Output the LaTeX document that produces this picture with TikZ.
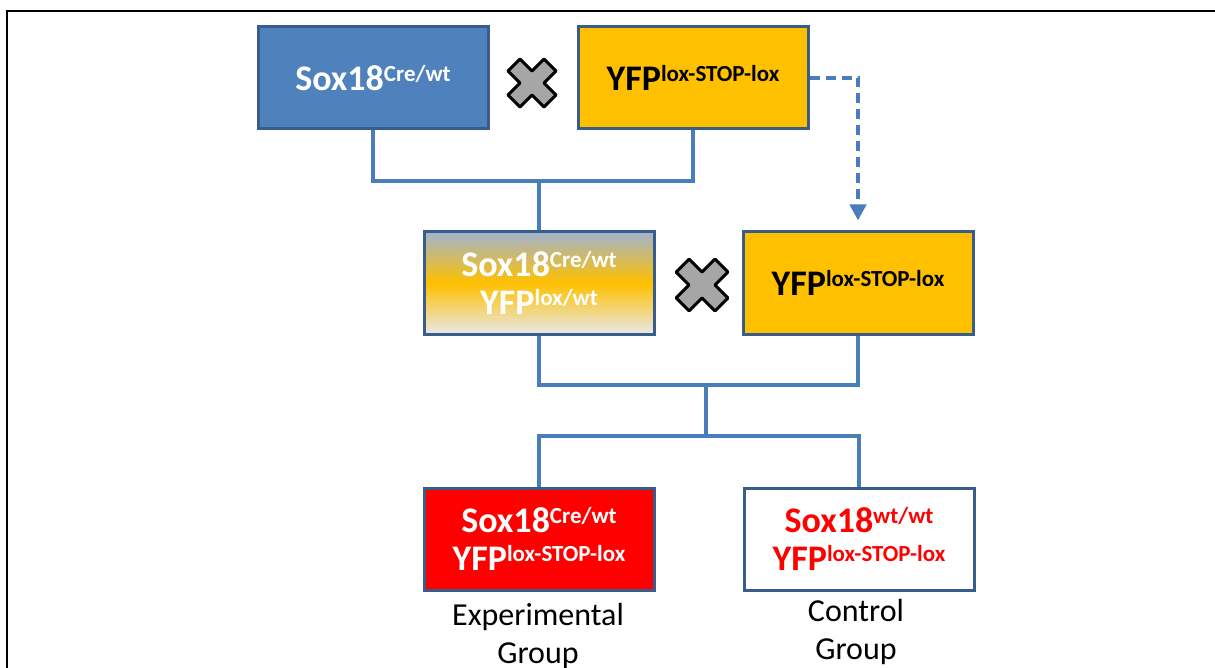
\documentclass[tikz,border=0pt]{standalone}
\usepackage{fontspec}
\setmainfont{Carlito}
\usetikzlibrary{arrows.meta}

\definecolor{boxblue}{HTML}{4F81BD}
\definecolor{edgeblue}{HTML}{385D8A}
\definecolor{lineblue}{HTML}{4A7EBB}
\definecolor{yfpgold}{HTML}{FFC000}
\definecolor{topgrey}{HTML}{A2B4CE}
\definecolor{lowgrey}{HTML}{E8E8E8}
\definecolor{crossgrey}{HTML}{A6A6A6}

% 基因型上标
\newcommand{\gsup}[1]{\raisebox{4.5pt}{\fontsize{11.5}{12}\selectfont #1}}

\begin{document}
\begin{tikzpicture}[x=0.5pt, y=-0.5pt,
  gbox/.style={draw=edgeblue, line width=1.5pt, minimum width=115pt, minimum height=51pt,
    inner sep=0pt, align=center, font=\fontsize{18}{19}\selectfont\bfseries},
  link/.style={draw=lineblue, line width=2pt},
  cross/.style={draw=black, line width=1.5pt, fill=crossgrey, line join=round}]

  \useasboundingbox (0,0) rectangle (1215,668);

  % 外框
  \draw[line width=1.4pt] (7,668) -- (7,11) -- (1215,11);

  % ---- 第一代杂交 ----
  \node[gbox, fill=boxblue, text=white] (sox) at (373,78) {Sox18\gsup{Cre/wt}};
  \node[gbox, fill=yfpgold] (yfp) at (693,78) {YFP\gsup{lox-STOP-lox}};

  % ---- 第二代杂交 ----
  \node[gbox, top color=topgrey, bottom color=lowgrey, middle color=yfpgold, text=white]
    (het) at (539,283) {Sox18\gsup{Cre/wt}\\YFP\gsup{lox/wt}};
  \node[gbox, fill=yfpgold] (yfp2) at (858,283) {YFP\gsup{lox-STOP-lox}};

  % ---- 子代分组 ----
  \node[gbox, fill=red, text=white] (exp) at (539,539) {Sox18\gsup{Cre/wt}\\YFP\gsup{lox-STOP-lox}};
  \node[gbox, fill=white, text=red] (ctl) at (859,539) {Sox18\gsup{wt/wt}\\YFP\gsup{lox-STOP-lox}};

  \node[font=\fontsize{16}{19}\selectfont, align=center] (explab) at (538,636) {Experimental\\Group};
  \node[font=\fontsize{16}{19}\selectfont, align=center] (ctllab) at (856,632) {Control\\Group};

  % 杂交符号 X
  \foreach \cx/\cy/\s in {532/83/1, 702/285/1.08}{
    \draw[cross, shift={(\cx,\cy)}, scale=\s]
      (-24,-12) -- (-12,-24) -- (0,-12) -- (12,-24) -- (24,-12) -- (12,0)
      -- (24,12) -- (12,24) -- (0,12) -- (-12,24) -- (-24,12) -- (-12,0) -- cycle;
  }

  % ---- 连线 ----
  \coordinate (j1) at (539,181);
  \draw[link] (sox.south) |- (j1) -| (yfp.south);
  \draw[link] (j1) -- (het.north);

  \coordinate (j2) at (706,385);
  \coordinate (j3) at (706,436);
  \draw[link] (het.south) |- (j2) -| (yfp2.south);
  \draw[link] (j2) -- (j3);
  \draw[link] (exp.north) |- (j3) -| (ctl.north);

  % 虚线箭头：回交
  \draw[link, line width=2.4pt, dash pattern=on 5pt off 3pt, shorten >=5pt,
    -{Triangle[length=8pt, width=8pt]}] (yfp.east) -| (yfp2.north);

\end{tikzpicture}
\end{document}
